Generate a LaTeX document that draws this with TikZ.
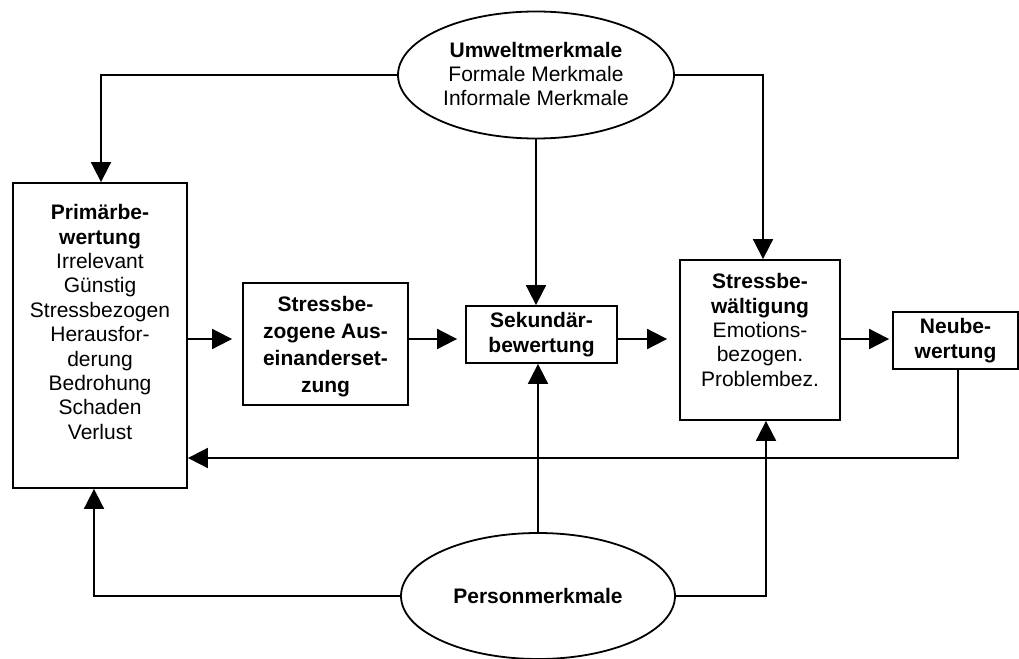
\documentclass[tikz,border=0pt]{standalone}
\usepackage{fontspec}
\setmainfont{Liberation Sans}
\usetikzlibrary{arrows.meta,shapes.geometric}
\begin{document}
\begin{tikzpicture}[x=1pt,y=-1pt,
  every node/.style={font=\fontsize{21}{24.4}\selectfont, inner sep=0pt},
  box/.style={draw, line width=1.8pt, rectangle},
  oval/.style={draw, line width=1.8pt, ellipse},
  txt/.style={align=center},
  btxt/.style={align=center, font=\fontsize{21}{25}\selectfont\bfseries},
  conn/.style={line width=1.8pt},
  arr/.style={conn, -{Triangle[length=20pt,width=20pt]}}]
\useasboundingbox (0,0) rectangle (1019,658);

% boxes
\node[box, minimum width=174pt, minimum height=305pt] (prim) at (100,335.5) {};
\node[txt] (primtxt) at (100,322) {\textbf{Primärbe-}\\\textbf{wertung}\\Irrelevant\\Günstig\\Stressbezogen\\Herausfor-\\derung\\Bedrohung\\Schaden\\Verlust};

\node[box, minimum width=165pt, minimum height=122pt] (sbz) at (325.5,344) {};
\node[btxt, font=\fontsize{21}{27}\selectfont\bfseries] (sbztxt) at (325.5,347) {Stressbe-\\zogene Aus-\\einanderset-\\zung};

\node[box, minimum width=151pt, minimum height=57pt] (sek) at (541.5,334.5) {};
\node[btxt] (sektxt) at (541.5,334.5) {Sekundär-\\bewertung};

\node[box, minimum width=160pt, minimum height=160pt] (sbw) at (760,340) {};
\node[txt] (sbwtxt) at (760,330) {\textbf{Stressbe-}\\\textbf{wältigung}\\Emotions-\\bezogen.\\Problembez.};

\node[box, minimum width=125pt, minimum height=57pt] (neu) at (955.5,340.5) {};
\node[btxt] (neutxt) at (955.5,340.5) {Neube-\\wertung};

% ellipses
\node[oval, minimum width=276pt, minimum height=127pt] (umwelt) at (536,75) {};
\node[txt] (umwelttxt) at (536,74) {\textbf{Umweltmerkmale}\\Formale Merkmale\\Informale Merkmale};

\node[oval, minimum width=274pt, minimum height=126pt] (person) at (538,596) {};
\node[btxt] (persontxt) at (538,596) {Personmerkmale};

% routing helpers
\coordinate (c1) at (101,0);
\coordinate (c2) at (763,0);
\coordinate (c3) at (766,0);
\coordinate (c4) at (94,0);
\coordinate (row) at (0,339);
\coordinate (fb) at (958,458);

% connectors from Umweltmerkmale
\draw[arr] (umwelt.west) -| (c1 |- prim.north);
\draw[arr] (umwelt.east) -| (c2 |- sbw.north);
\draw[arr] (umwelt.south) -- (umwelt.south |- sek.north);

% main chain
\draw[arr, shorten >=10pt] (prim.east |- row) -- (sbz.west |- row);
\draw[arr, shorten >=8pt] (sbz.east |- row) -- (sek.west |- row);
\draw[arr, shorten >=12pt] (sek.east |- row) -- (sbw.west |- row);
\draw[arr, shorten >=3pt] (sbw.east |- row) -- (neu.west |- row);

% feedback from Neubewertung
\draw[arr] (neu.south -| fb) |- (prim.east |- fb);

% connectors from Personmerkmale
\draw[arr] (person.north) -- (person.north |- sek.south);
\draw[arr] (person.east) -| (c3 |- sbw.south);
\draw[arr] (person.west) -| (c4 |- prim.south);
\end{tikzpicture}
\end{document}
